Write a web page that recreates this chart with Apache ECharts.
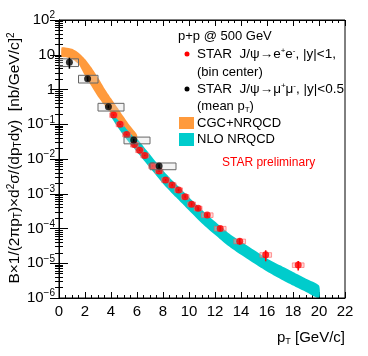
<!DOCTYPE html>
<html style="height: 100%">
<head>
<meta charset="utf-8">
<script src="https://cdn.jsdelivr.net/npm/echarts@6/dist/echarts.min.js"></script>
</head>
<body style="height: 100%; margin: 0; background: #fff">
<div id="container" style="width: 368px; height: 356px"></div>
<script type="text/javascript">
// STAR J/psi -> mu+mu- (mean pT), black points with syst boxes
var muX = [0.8, 2.2, 3.8, 5.75, 7.7];
var muY = [6.1, 2.05, 0.32, 0.035, 0.0063];
var muBinLo = [0, 1.5, 3, 5, 7];
var muBinHi = [1.5, 3, 5, 7, 9];
var muStat = [0.35, 0.15, 0.1, 0.1, 0.12];   // relative
var muSys = [0.25, 0.25, 0.25, 0.22, 0.22];   // relative

// STAR J/psi -> e+e- (bin center), red points
var eeX = [4.2, 4.7, 5.2, 5.8, 6.2, 6.6, 7.2, 7.7, 8.2, 8.7, 9.2, 9.7, 10.2, 10.7, 11.4, 12.4, 13.9, 15.9, 18.4];
var eeY = [0.185, 0.10, 0.051, 0.026, 0.018, 0.0127, 0.0063, 0.0045, 0.0025, 0.0018, 0.00128, 0.00082,
           0.0005, 0.00038, 0.000245, 0.0001, 4.3e-5, 1.75e-5, 8.9e-6];
var eeXErr = [0.3, 0.3, 0.3, 0.3, 0.3, 0.3, 0.3, 0.3, 0.3, 0.3, 0.3, 0.3, 0.3, 0.3, 0.45, 0.45, 0.45, 0.45, 0.45];
var eeStat = [0.05, 0.05, 0.05, 0.05, 0.05, 0.05, 0.06, 0.06, 0.07, 0.08, 0.08, 0.1, 0.1, 0.12, 0.12, 0.15, 0.2, 0.35, 0.3];
var eeSys = [0.15, 0.15, 0.15, 0.15, 0.15, 0.15, 0.15, 0.15, 0.15, 0.15, 0.15, 0.15, 0.15, 0.15, 0.15, 0.15, 0.15, 0.15, 0.15];

// CGC+NRQCD band
var cgcX = [0.2, 0.5, 1.0, 1.5, 2.0, 2.5, 3.0, 3.5, 4.0, 4.5, 5.0, 5.5, 6.0];
var cgcHi = [16.2, 16.2, 14.8, 11.5, 7.6, 4.3, 2.2, 1.07, 0.56, 0.30, 0.16, 0.087, 0.050];
var cgcLo = [8.7, 8.5, 7.6, 5.4, 2.5, 1.24, 0.62, 0.35, 0.21, 0.138, 0.089, 0.054, 0.035];

// NLO NRQCD band
var nloX = [4, 5, 6, 7, 8, 9, 10, 11, 12, 13, 14, 15, 16, 17, 18, 19, 20];
var nloHi = [0.40, 0.11, 0.039, 0.0135, 0.0047, 0.0019, 7.9e-4, 3.4e-4, 1.58e-4, 7.6e-5, 4.2e-5,
             2.4e-5, 1.38e-5, 8.7e-6, 5.6e-6, 3.6e-6, 2.3e-6];
var nloLo = [0.17, 0.046, 0.016, 5.6e-3, 1.95e-3, 7.9e-4, 3.3e-4, 1.4e-4, 6.6e-5, 3.2e-5, 1.75e-5,
             1.0e-5, 5.8e-6, 3.6e-6, 2.3e-6, 1.5e-6, 1.0e-6];

var xTicks = [0, 22, 2];
var yRange = [1e-6, 100];

var FONT = 'Liberation Sans, Arial, Helvetica, sans-serif';
var myChart = echarts.init(document.getElementById('container'));

function band(xs, lo, hi, color, z) {
    return {
        type: 'custom', silent: true, clip: true, z: z,
        data: [[xs[0], hi[0]]],
        renderItem: function (params, api) {
            var pts = [];
            for (var i = 0; i < xs.length; i++) pts.push(api.coord([xs[i], hi[i]]));
            for (var j = xs.length - 1; j >= 0; j--) pts.push(api.coord([xs[j], lo[j]]));
            return { type: 'polygon', shape: { points: pts, smooth: 0.2 }, style: { fill: color } };
        }
    };
}

function supLabel(v) {
    var e = Math.round(Math.log10(v));
    if (e === 0) return '{b|1}';
    if (e === 1) return '{b|10}';
    return '{b|10}{s|' + (e < 0 ? '\u2212' + (-e) : e) + '}';
}

var muData = muX.map(function (x, i) {
    return [x, muY[i], muBinLo[i], muBinHi[i], muStat[i], muSys[i]];
});
var eeData = eeX.map(function (x, i) {
    return [x, eeY[i], eeXErr[i], eeStat[i], eeSys[i]];
});

var axisCommon = {
    axisLine: { lineStyle: { color: '#000', width: 1 } },
    splitLine: { show: false }
};

option = {
    animation: false,
    grid: { left: 59, right: 23, top: 20, bottom: 58, show: false },
    xAxis: [
        Object.assign({
            type: 'value', min: xTicks[0], max: xTicks[1], interval: xTicks[2],
            axisTick: { inside: true, length: 6, lineStyle: { color: '#000' } },
            minorTick: { show: true, splitNumber: 4, length: 3, lineStyle: { color: '#000' } },
            axisLabel: { color: '#000', fontSize: 15, fontFamily: FONT, margin: 6 }
        }, axisCommon),
        Object.assign({
            type: 'value', position: 'top', min: xTicks[0], max: xTicks[1], interval: xTicks[2],
            axisTick: { inside: true, length: 6, lineStyle: { color: '#000' } },
            minorTick: { show: true, splitNumber: 4, length: 3, lineStyle: { color: '#000' } },
            axisLabel: { show: false }
        }, axisCommon)
    ],
    yAxis: [
        Object.assign({
            type: 'log', logBase: 10, min: yRange[0], max: yRange[1],
            axisTick: { inside: true, length: 9, lineStyle: { color: '#000' } },
            minorTick: { show: true, splitNumber: 9, length: 4, lineStyle: { color: '#000' } },
            axisLabel: {
                color: '#000', margin: 4, formatter: supLabel,
                rich: {
                    b: { fontSize: 15, fontFamily: FONT, color: '#000' },
                    s: { fontSize: 10, fontFamily: FONT, color: '#000', padding: [0, 0, 9, 0] }
                }
            }
        }, axisCommon),
        Object.assign({
            type: 'log', logBase: 10, position: 'right', min: yRange[0], max: yRange[1],
            axisTick: { inside: true, length: 9, lineStyle: { color: '#000' } },
            minorTick: { show: true, splitNumber: 9, length: 4, lineStyle: { color: '#000' } },
            axisLabel: { show: false }
        }, axisCommon)
    ],
    series: [
        band(nloX, nloLo, nloHi, '#00cccc', 1),
        band(cgcX, cgcLo, cgcHi, '#ff9a3c', 2),
        {
            // e+e- syst boxes and stat bars
            type: 'custom', clip: true, z: 3, silent: true,
            data: eeData,
            renderItem: function (params, api) {
                var x = api.value(0), y = api.value(1), dx = api.value(2);
                var st = api.value(3), sy = api.value(4);
                var a = api.coord([x - dx, y * (1 + sy)]);
                var b = api.coord([x + dx, y * (1 - sy)]);
                var t = api.coord([x, y * (1 + st)]);
                var u = api.coord([x, y * (1 - st)]);
                return {
                    type: 'group', children: [
                        { type: 'rect', shape: { x: a[0], y: a[1], width: b[0] - a[0], height: b[1] - a[1] },
                          style: { fill: 'rgba(255,170,170,0.45)', stroke: 'rgba(255,90,90,0.6)', lineWidth: 1 } },
                        { type: 'line', shape: { x1: t[0], y1: t[1], x2: u[0], y2: u[1] },
                          style: { stroke: '#ff0000', lineWidth: 1.5 } }
                    ]
                };
            }
        },
        {
            type: 'scatter', z: 4, silent: true, symbolSize: 7,
            itemStyle: { color: '#ff0000' },
            data: eeData.map(function (d) { return [d[0], d[1]]; })
        },
        {
            // mu+mu- syst boxes and stat bars
            type: 'custom', clip: true, z: 5, silent: true,
            data: muData,
            renderItem: function (params, api) {
                var x = api.value(0), y = api.value(1);
                var lo = api.value(2), hi = api.value(3);
                var st = api.value(4), sy = api.value(5);
                var a = api.coord([lo, y * (1 + sy)]);
                var b = api.coord([hi, y * (1 - sy)]);
                var t = api.coord([x, y * (1 + st)]);
                var u = api.coord([x, y * (1 - st)]);
                return {
                    type: 'group', children: [
                        { type: 'rect', shape: { x: a[0], y: a[1], width: b[0] - a[0], height: b[1] - a[1] },
                          style: { fill: 'rgba(220,220,220,0.3)', stroke: '#666', lineWidth: 1 } },
                        { type: 'line', shape: { x1: t[0], y1: t[1], x2: u[0], y2: u[1] },
                          style: { stroke: '#000', lineWidth: 1.5 } }
                    ]
                };
            }
        },
        {
            type: 'scatter', z: 6, silent: true, symbolSize: 7,
            itemStyle: { color: '#000' },
            data: muData.map(function (d) { return [d[0], d[1]]; })
        }
    ],
    graphic: [
        { type: 'rect', z: 100, shape: { x: 59, y: 20, width: 286, height: 278 },
          style: { fill: 'none', stroke: '#000', lineWidth: 1 } },
        { type: 'text', x: 15, y: 158, rotation: Math.PI / 2,
          style: {
              text: 'B\u00d71/(2\u03c0p{sub|T})\u00d7d{sup|2}\u03c3/(dp{sub|T}dy)  [nb/GeV/c]{sup|2}',
              fontSize: 15.5, fontFamily: FONT, fill: '#000', align: 'center', verticalAlign: 'middle',
              rich: {
                  sub: { fontSize: 10, fontFamily: FONT, fill: '#000', padding: [7, 0, 0, 0] },
                  sup: { fontSize: 10, fontFamily: FONT, fill: '#000', padding: [0, 0, 7, 0] }
              }
          } },
        { type: 'text', x: 345, y: 338,
          style: {
              text: 'p{sub|T} [GeV/c]', fontSize: 15, fontFamily: FONT, fill: '#000',
              align: 'right', verticalAlign: 'middle',
              rich: { sub: { fontSize: 9, fontFamily: FONT, fill: '#000', padding: [8, 0, 0, 0] } }
          } },
        { type: 'text', x: 178, y: 36,
          style: { text: 'p+p @ 500 GeV', fontSize: 13, fontFamily: FONT, fill: '#000', verticalAlign: 'middle' } },
        { type: 'circle', shape: { cx: 187, cy: 54, r: 2.5 }, style: { fill: '#ff0000' } },
        { type: 'text', x: 197, y: 54,
          style: {
              text: 'STAR  J/\u03c8\u2192e{sup|+}e{sup|-}, |y|<1,', fontSize: 13.5, fontFamily: FONT, fill: '#000',
              verticalAlign: 'middle',
              rich: { sup: { fontSize: 8, fontFamily: FONT, fill: '#000', padding: [0, 0, 7, 0] } }
          } },
        { type: 'text', x: 197, y: 72,
          style: { text: '(bin center)', fontSize: 13, fontFamily: FONT, fill: '#000', verticalAlign: 'middle' } },
        { type: 'circle', shape: { cx: 187, cy: 89, r: 2.5 }, style: { fill: '#000' } },
        { type: 'text', x: 197, y: 89,
          style: {
              text: 'STAR  J/\u03c8\u2192\u03bc{sup|+}\u03bc{sup|-}, |y|<0.5', fontSize: 13.5, fontFamily: FONT, fill: '#000',
              verticalAlign: 'middle',
              rich: { sup: { fontSize: 8, fontFamily: FONT, fill: '#000', padding: [0, 0, 7, 0] } }
          } },
        { type: 'text', x: 197, y: 106,
          style: {
              text: '(mean p{sub|T})', fontSize: 13, fontFamily: FONT, fill: '#000', verticalAlign: 'middle',
              rich: { sub: { fontSize: 8, fontFamily: FONT, fill: '#000', padding: [7, 0, 0, 0] } }
          } },
        { type: 'rect', shape: { x: 179, y: 117, width: 15, height: 12 }, style: { fill: '#ff9a3c' } },
        { type: 'text', x: 197, y: 123,
          style: { text: 'CGC+NRQCD', fontSize: 13, fontFamily: FONT, fill: '#000', verticalAlign: 'middle' } },
        { type: 'rect', shape: { x: 179, y: 133, width: 15, height: 13 }, style: { fill: '#00cccc' } },
        { type: 'text', x: 197, y: 139.5,
          style: { text: 'NLO NRQCD', fontSize: 13, fontFamily: FONT, fill: '#000', verticalAlign: 'middle' } },
        { type: 'text', x: 222, y: 163,
          style: { text: 'STAR preliminary', fontSize: 12, fontFamily: FONT, fill: '#ff0000', verticalAlign: 'middle' } }
    ]
};

myChart.setOption(option);
</script>
</body>
</html>
